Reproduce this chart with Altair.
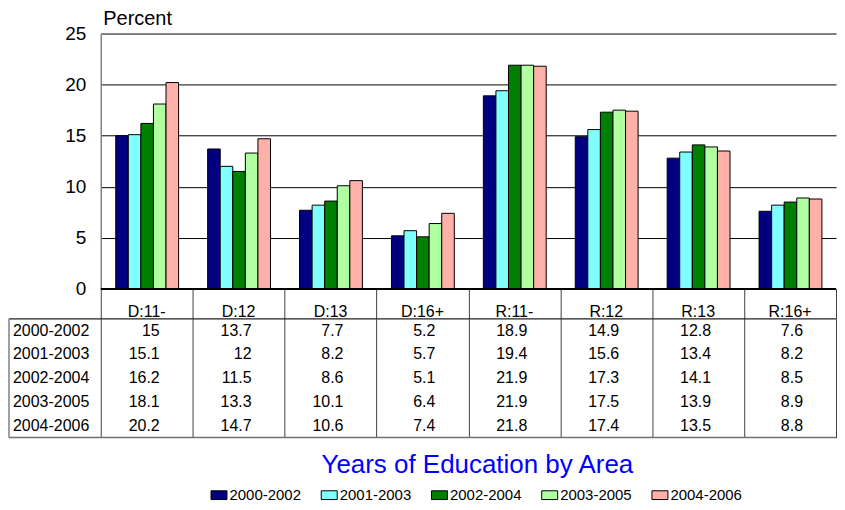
import altair as alt
import pandas as pd

categories = ["D:11-", "D:12", "D:13", "D:16+", "R:11-", "R:12", "R:13", "R:16+"]
periods = ["2000-2002", "2001-2003", "2002-2004", "2003-2005", "2004-2006"]
v2000_2002 = [15, 13.7, 7.7, 5.2, 18.9, 14.9, 12.8, 7.6]
v2001_2003 = [15.1, 12, 8.2, 5.7, 19.4, 15.6, 13.4, 8.2]
v2002_2004 = [16.2, 11.5, 8.6, 5.1, 21.9, 17.3, 14.1, 8.5]
v2003_2005 = [18.1, 13.3, 10.1, 6.4, 21.9, 17.5, 13.9, 8.9]
v2004_2006 = [20.2, 14.7, 10.6, 7.4, 21.8, 17.4, 13.5, 8.8]
colors = ["#000080", "#80FFFF", "#008000", "#B0FFA0", "#FFB0A8"]
y_ticks = [0, 5, 10, 15, 20, 25]

series = [v2000_2002, v2001_2003, v2002_2004, v2003_2005, v2004_2006]
rows = []
for p, vals in zip(periods, series):
    for c, v in zip(categories, vals):
        rows.append({"cat": c, "period": p, "value": v, "label": f"{v:g}"})
df = pd.DataFrame(rows)

W = 737
FONT = "Liberation Sans"

x_scale = alt.Scale(domain=categories, paddingInner=0, paddingOuter=0)

bars = alt.Chart(df).mark_bar(stroke="black", strokeWidth=1).encode(
    x=alt.X("cat:N", scale=x_scale, sort=categories, axis=None),
    xOffset=alt.XOffset("period:N", sort=periods,
                        scale=alt.Scale(domain=periods, range=[15, 78],
                                        paddingInner=0, paddingOuter=0)),
    y=alt.Y("value:Q", scale=alt.Scale(domain=[0, 25], nice=False),
            axis=alt.Axis(values=y_ticks, title="Percent", titleAngle=0, titleAlign="left",
                          titleBaseline="alphabetic", titleX=2, titleY=-9, titleFontSize=20,
                          titleFontWeight="normal", labelFontSize=19, labelPadding=15,
                          ticks=False, grid=True, gridColor="black", gridWidth=1,
                          gridOpacity=1, domainColor="#808080", domainWidth=1.5)),
    color=alt.Color("period:N", sort=periods, scale=alt.Scale(domain=periods, range=colors),
                    legend=alt.Legend(title=None, orient="none", direction="horizontal",
                                      legendX=110, legendY=454,
                                      symbolType="M-1,-0.55H1V0.55H-1Z", symbolSize=256,
                                      symbolStrokeColor="black", symbolStrokeWidth=1,
                                      symbolOpacity=1, labelFontSize=15, labelOffset=2,
                                      columnPadding=17.5)),
)
zero = alt.Chart(pd.DataFrame({"y": [0]})).mark_rule(color="black", strokeWidth=2).encode(
    y="y:Q")
top = alt.layer(bars, zero).properties(width=W, height=256)

grid_axis = dict(labels=False, ticks=False, domain=False, grid=True, gridColor="#404040",
                 gridOpacity=1, tickBand="extent")

cat_df = pd.DataFrame({"cat": categories})
header = alt.Chart(cat_df).mark_text(fontSize=16, baseline="middle").encode(
    x=alt.X("cat:N", scale=x_scale, sort=categories, axis=alt.Axis(title=None, **grid_axis)),
    y=alt.value(23),
    text="cat:N",
).properties(width=W, height=30)

y_tab = alt.Y("period:N", sort=periods,
              scale=alt.Scale(domain=periods, paddingOuter=0.1, paddingInner=0), axis=None)

table_text = alt.Chart(df).mark_text(fontSize=16, align="right", dx=13, baseline="middle").encode(
    x=alt.X("cat:N", scale=x_scale, sort=categories,
            axis=alt.Axis(title="Years of Education by Area", titleFontSize=26,
                          titleColor="#0000FF", titleFontWeight="normal", titlePadding=14.5,
                          titleX=377, titleAlign="center", **grid_axis)),
    y=y_tab,
    text="label:N",
)
row_labels = alt.Chart(pd.DataFrame({"period": periods})).mark_text(
    fontSize=16, align="left", baseline="middle").encode(
    x=alt.value(-88), y=y_tab, text="period:N")

one = pd.DataFrame({"k": [0]})
h_top = alt.Chart(one).mark_rule(color="#202020", strokeWidth=1.2).encode(
    x=alt.value(-92), x2=alt.value(W), y=alt.value(0))
h_bot = alt.Chart(one).mark_rule(color="#707070", strokeWidth=1.5).encode(
    x=alt.value(-92), x2=alt.value(W), y=alt.value(119))
v_left = alt.Chart(one).mark_rule(color="#808080", strokeWidth=1.5).encode(
    x=alt.value(-92), y=alt.value(0), y2=alt.value(119))

table = alt.layer(table_text, row_labels, h_top, h_bot, v_left).properties(width=W, height=119)

chart = alt.vconcat(top, header, table, spacing=0, bounds="flush").properties(
    padding={"left": 0, "right": 0, "top": 0, "bottom": 0}
).configure(font=FONT).configure_view(stroke=None).configure_axis(
    labelColor="black", labelFont=FONT, titleFont=FONT
).configure_legend(labelFont=FONT, labelColor="black")

chart.save("out.html", embed_options={"renderer": "svg", "actions": False})
